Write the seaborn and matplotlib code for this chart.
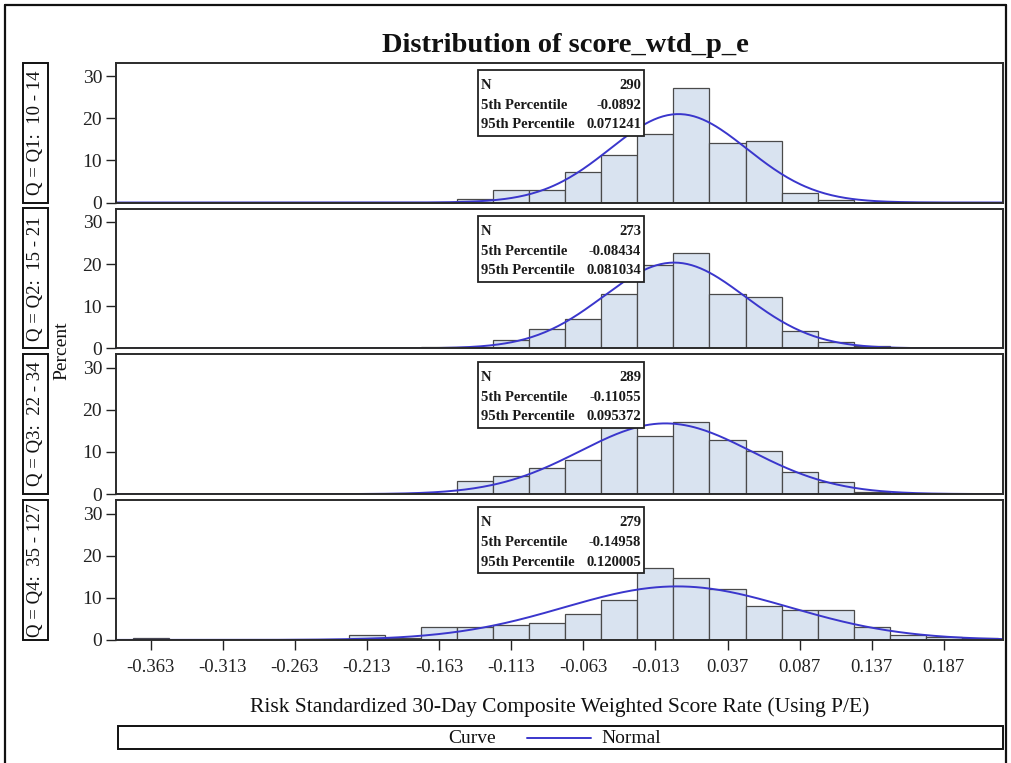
import numpy as np
import pandas as pd
import matplotlib
matplotlib.use("Agg")
import matplotlib.pyplot as plt
import seaborn as sns
from matplotlib.patches import Rectangle
from matplotlib.lines import Line2D

# ---------------- data ----------------
title = "Distribution of score_wtd_p_e"
x_label = "Risk Standardized 30-Day Composite Weighted Score Rate (Using P/E)"
y_label = "Percent"
panel_labels = ["Q = Q1:  10 - 14", "Q = Q2:  15 - 21", "Q = Q3:  22 - 34", "Q = Q4:  35 - 127"]

bin_mids = [-0.363, -0.338, -0.313, -0.288, -0.263, -0.238, -0.213, -0.188,
            -0.163, -0.138, -0.113, -0.088, -0.063, -0.038, -0.013, 0.012,
            0.037, 0.062, 0.087, 0.112, 0.137, 0.162, 0.187, 0.212]

pct_q1 = [0, 0, 0, 0, 0, 0, 0, 0, 0, 0.9, 2.9, 3.0, 7.2, 11.2, 16.3, 27.3,
          14.2, 14.6, 2.3, 0.5, 0, 0, 0, 0]
pct_q2 = [0, 0, 0, 0, 0, 0, 0, 0, 0.4, 0.4, 1.9, 4.6, 7.0, 12.8, 19.8, 22.6,
          12.8, 12.1, 4.0, 1.6, 0.5, 0, 0, 0]
pct_q3 = [0, 0, 0, 0, 0, 0, 0, 0, 0, 3.2, 4.2, 6.2, 8.1, 16.3, 13.7, 17.2,
          12.9, 10.3, 5.3, 2.9, 0.4, 0, 0, 0]
pct_q4 = [0.4, 0, 0, 0, 0, 0, 1.1, 0.4, 3.0, 3.0, 3.6, 4.1, 6.2, 9.4, 17.0, 14.8,
          12.1, 8.0, 7.2, 7.0, 3.0, 1.2, 0.8, 0.5]

normal_mean = [0.003, 0.000, -0.006, 0.002]
normal_sd = [0.0475, 0.049, 0.0594, 0.0785]

stat_n = ["290", "273", "289", "279"]
stat_p5 = ["-0.0892", "-0.08434", "-0.11055", "-0.14958"]
stat_p95 = ["0.071241", "0.081034", "0.095372", "0.120005"]

x_ticks = [-0.363, -0.313, -0.263, -0.213, -0.163, -0.113, -0.063, -0.013,
           0.037, 0.087, 0.137, 0.187]
x_tick_labels = ["-0.363", "-0.313", "-0.263", "-0.213", "-0.163", "-0.113",
                 "-0.063", "-0.013", "0.037", "0.087", "0.137", "0.187"]
y_ticks = [0, 10, 20, 30]

legend_title = "Curve"
legend_entry = "Normal"

# ---------------- style ----------------
sns.set_theme(style="white")
plt.rcParams["font.family"] = ["Liberation Serif", "DejaVu Serif"]

W, H = 1011, 763
fig = plt.figure(figsize=(W / 100, H / 100), dpi=100)
fig.patch.set_facecolor("white")


def fx(px):
    return px / W


def fy(py):
    return 1 - py / H


fill_c = "#d9e3f0"
edge_c = "#4a4a4a"
curve_c = "#3a36cc"
frame_c = "#2b2b2b"

p_left, p_right = 116, 1003
p_h = 139.8
tops = [62.7, 208.5, 354.3, 500.1]
xlim = (-0.387, 0.228)
ylim = (0, 33.2)

mids = np.array(bin_mids)
bw = mids[1] - mids[0]
b_lo, b_hi = mids[0] - bw / 2, mids[-1] + bw / 2
pcts = [pct_q1, pct_q2, pct_q3, pct_q4]

for i in range(4):
    top = tops[i]
    ax = fig.add_axes([fx(p_left), fy(top + p_h), fx(p_right - p_left), p_h / H])
    df = pd.DataFrame({"mid": bin_mids, "pct": pcts[i]})
    sns.histplot(data=df, x="mid", weights="pct", bins=len(bin_mids),
                 binrange=(b_lo, b_hi), stat="count",
                 ax=ax, color=fill_c, edgecolor=edge_c, linewidth=0.9, alpha=1)
    xs = np.linspace(xlim[0], xlim[1], 400)
    ys = 100 * bw * np.exp(-0.5 * ((xs - normal_mean[i]) / normal_sd[i]) ** 2) / (
        normal_sd[i] * np.sqrt(2 * np.pi))
    sns.lineplot(x=xs, y=ys, ax=ax, color=curve_c, linewidth=1.4)
    ax.set_xlim(*xlim)
    ax.set_ylim(*ylim)
    ax.set_xlabel("")
    ax.set_ylabel("")
    ax.set_yticks(y_ticks)
    ax.set_yticklabels([str(v) for v in y_ticks], fontsize=14, color="#222222")
    ax.set_xticks(x_ticks)
    if i == 3:
        ax.set_xticklabels(x_tick_labels, fontsize=13.5, color="#222222")
    else:
        ax.set_xticklabels([])
    ax.tick_params(axis="both", direction="out", length=7, width=1.0, color="#222222", pad=3)
    ax.tick_params(axis="x", pad=7)
    ax.tick_params(axis="y", left=True)
    ax.tick_params(axis="x", bottom=(i == 3))
    for s in ax.spines.values():
        s.set_visible(True)
        s.set_color(frame_c)
        s.set_linewidth(1.4)
    ax.grid(False)

    # statistics inset
    bx0, bx1 = (478 - p_left) / (p_right - p_left), (644 - p_left) / (p_right - p_left)
    by1 = 1 - 7.3 / p_h
    by0 = 1 - 73.3 / p_h
    ax.add_patch(Rectangle((bx0, by0), bx1 - bx0, by1 - by0, transform=ax.transAxes,
                           facecolor="white", edgecolor="#222222", linewidth=1.3, zorder=5))
    rows = [("N", stat_n[i]), ("5th Percentile", stat_p5[i]), ("95th Percentile", stat_p95[i])]
    offs = [15.5, 35.5, 55.0]
    for (lab, val), off in zip(rows, offs):
        yy = by1 - off / p_h
        ax.text(bx0 + 3 / 887, yy, lab, transform=ax.transAxes, ha="left", va="center",
                fontsize=10.5, fontweight="bold", color="#1a1a1a", zorder=6)
        ax.text(bx1 - 3 / 887, yy, val, transform=ax.transAxes, ha="right", va="center",
                fontsize=10.5, fontweight="bold", color="#1a1a1a", zorder=6)

    # row label box
    fig.patches.append(Rectangle((fx(22.7), fy(top + p_h)), fx(25), p_h / H,
                                 transform=fig.transFigure, facecolor="none",
                                 edgecolor="#111111", linewidth=1.4))
    fig.text(fx(35.5), fy(top + p_h / 2), panel_labels[i], rotation=90, ha="center",
             va="center", fontsize=13.5, color="#111111")

fig.text(fx(62), fy(351), y_label, rotation=90, ha="center", va="center", fontsize=14,
         color="#111111")
fig.text(fx(565), fy(45), title, ha="center", va="center", fontsize=20.5,
         fontweight="bold", color="#111111")
fig.text(fx(560), fy(707), x_label, ha="center", va="center", fontsize=15.5,
         color="#111111")

# legend
fig.patches.append(Rectangle((fx(118), fy(749)), fx(1003 - 118), (749 - 726) / H,
                             transform=fig.transFigure, facecolor="none",
                             edgecolor="#111111", linewidth=1.4))
fig.text(fx(496), fy(738.5), legend_title, ha="right", va="center", fontsize=14,
         color="#111111")
fig.lines.append(Line2D([fx(527), fx(591)], [fy(737.5), fy(737.5)], transform=fig.transFigure,
                        color=curve_c, linewidth=1.4))
fig.text(fx(601), fy(738.5), legend_entry, ha="left", va="center", fontsize=14,
         color="#111111")

# outer frame
for xs_, ys_ in [([5, 5], [5, 770]), ([5, 1006], [5, 5]), ([1006, 1006], [5, 770])]:
    fig.lines.append(Line2D([fx(v) for v in xs_], [fy(v) for v in ys_],
                            transform=fig.transFigure, color="#111111", linewidth=1.6))

fig.savefig("out.png", dpi=100)
